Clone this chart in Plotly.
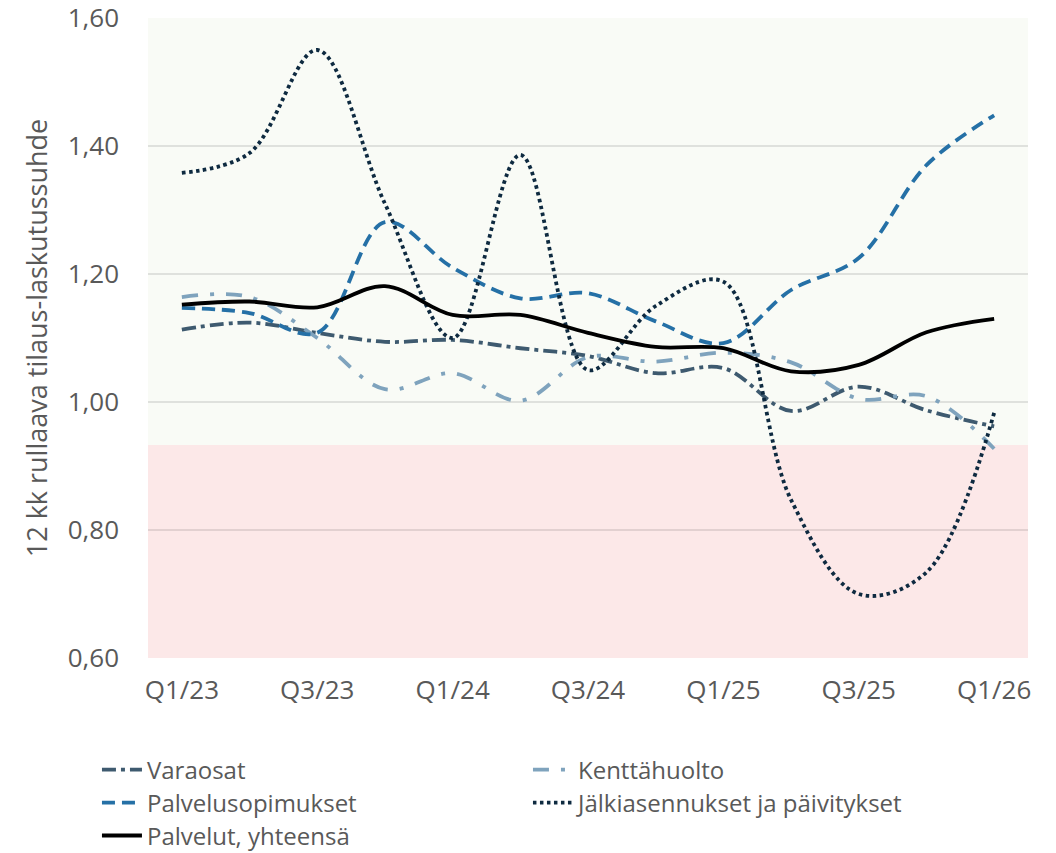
import plotly.graph_objects as go

quarters = ["Q1/23", "Q2/23", "Q3/23", "Q4/23", "Q1/24", "Q2/24", "Q3/24",
            "Q4/24", "Q1/25", "Q2/25", "Q3/25", "Q4/25", "Q1/26"]

varaosat = [1.113, 1.124, 1.108, 1.094, 1.097, 1.084, 1.072, 1.045, 1.053, 0.986, 1.024, 0.987, 0.962]
kenttahuolto = [1.164, 1.164, 1.100, 1.020, 1.045, 1.002, 1.070, 1.063, 1.077, 1.062, 1.005, 1.009, 0.927]
palvelusopimukset = [1.147, 1.139, 1.108, 1.281, 1.210, 1.162, 1.170, 1.126, 1.092, 1.175, 1.225, 1.370, 1.448]
jalkiasennukset = [1.358, 1.389, 1.550, 1.310, 1.100, 1.386, 1.050, 1.150, 1.188, 0.847, 0.700, 0.734, 0.983]
palvelut_yht = [1.152, 1.157, 1.148, 1.181, 1.136, 1.136, 1.108, 1.086, 1.084, 1.048, 1.058, 1.109, 1.130]

threshold = 0.933
y_min, y_max = 0.60, 1.60
y_ticks = [0.60, 0.80, 1.00, 1.20, 1.40, 1.60]
y_ticktext = ["0,60", "0,80", "1,00", "1,20", "1,40", "1,60"]

FONT = "Open Sans"
TXT = "#595959"

# name, values, colour, dash, legend row
series = [
    ("Varaosat", varaosat, "#3e5a6f", "14px,5px,4px,5px", "legend"),
    ("Kenttähuolto", kenttahuolto, "#7fa3bd", "16px,12px,4px,12px", "legend"),
    ("Palvelusopimukset", palvelusopimukset, "#2570a6", "13px,7px", "legend2"),
    ("Jälkiasennukset ja päivitykset", jalkiasennukset, "#0e2a40", "3.5px,3.5px", "legend2"),
    ("Palvelut, yhteensä", palvelut_yht, "#000000", "solid", "legend3"),
]

fig = go.Figure()
for name, vals, color, dash, lg in series:
    fig.add_trace(go.Scatter(
        x=quarters, y=vals, name=name, mode="lines", legend=lg,
        line=dict(color=color, width=3.8, dash=dash, shape="spline", smoothing=1),
    ))

fig.add_shape(type="rect", xref="paper", yref="y", x0=0, x1=1, y0=y_min, y1=threshold,
              fillcolor="#fce8e8", line_width=0, layer="below")
fig.add_shape(type="rect", xref="paper", yref="y", x0=0, x1=1, y0=threshold, y1=y_max,
              fillcolor="#f9fbf6", line_width=0, layer="below")

def legend_row(yc):
    return dict(orientation="h", x=-0.058, xanchor="left", y=yc, yanchor="middle",
                entrywidth=376, entrywidthmode="pixels", traceorder="normal",
                font=dict(family=FONT, size=24, color=TXT), itemwidth=40,
                bgcolor="rgba(0,0,0,0)", borderwidth=0)

fig.update_layout(
    width=1056, height=853,
    margin=dict(l=148, r=28, t=18, b=195, autoexpand=False),
    paper_bgcolor="white", plot_bgcolor="white",
    font=dict(family=FONT, size=26, color=TXT),
    showlegend=True,
    legend=legend_row(-0.175),
    legend2=legend_row(-0.2266),
    legend3=legend_row(-0.278),
    xaxis=dict(type="category", tickmode="array", tickvals=quarters[::2], ticktext=quarters[::2],
               showgrid=False, showline=False, zeroline=False, ticks="", automargin=False,
               ticklabelstandoff=14, tickfont=dict(size=26, color=TXT),
               ticklabeloverflow="allow",
               range=[-0.5, len(quarters) - 0.5]),
    yaxis=dict(range=[y_min, y_max], tickmode="array", tickvals=y_ticks, ticktext=y_ticktext,
               showgrid=True, gridcolor="rgba(0,0,0,0.1)", gridwidth=2, zeroline=False,
               showline=False, ticks="", ticklabelstandoff=28, automargin=False,
               ticklabeloverflow="allow",
               tickfont=dict(size=26, color=TXT),
               title=dict(text="12 kk rullaava tilaus-laskutussuhde", standoff=12,
                          font=dict(size=27, color=TXT))),
)

fig.write_html("out.html", config={"displayModeBar": False},
               post_script="document.body.style.margin='0';")
